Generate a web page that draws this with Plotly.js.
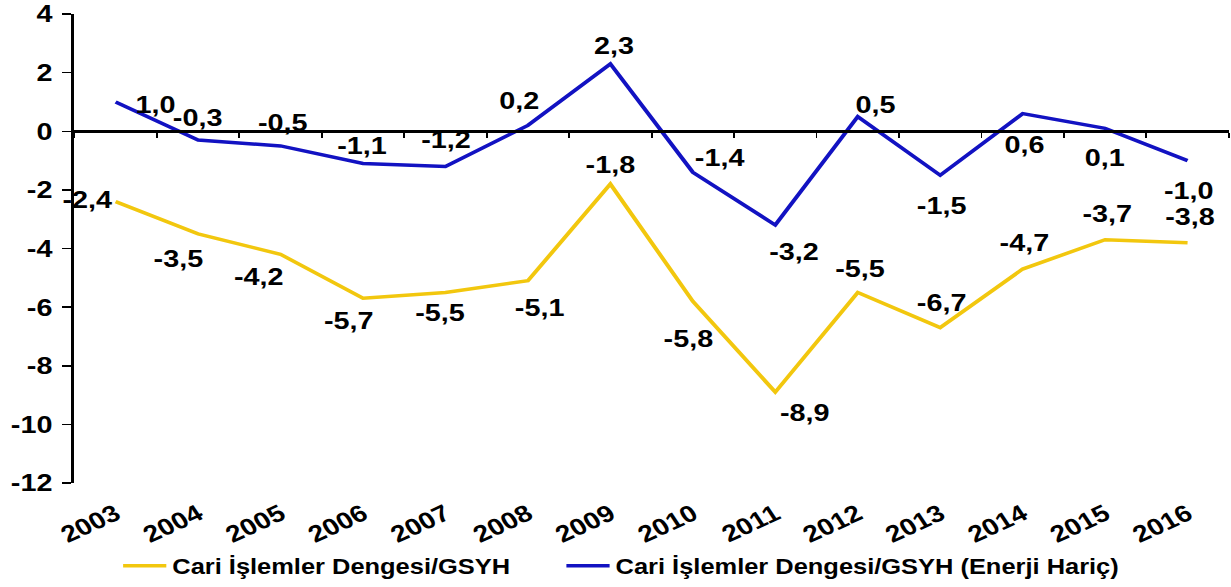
<!DOCTYPE html>
<html>
<head>
<meta charset="utf-8">
<script src="https://cdn.plot.ly/plotly-3.0.1.min.js"></script>
<style>
  html, body { margin: 0; padding: 0; overflow: hidden; background: #fff; }
  #chart { width: 1025px; height: 587px; transform: scaleX(1.2); transform-origin: 0 0; }
</style>
</head>
<body>
<div id="chart"></div>
<script>
// ---- data ----
const years = ['2003','2004','2005','2006','2007','2008','2009','2010','2011','2012','2013','2014','2015','2016'];
const cariGSYH = [-2.4, -3.5, -4.2, -5.7, -5.5, -5.1, -1.8, -5.8, -8.9, -5.5, -6.7, -4.7, -3.7, -3.8];
const cariEnerjiHaric = [1.0, -0.3, -0.5, -1.1, -1.2, 0.2, 2.3, -1.4, -3.2, 0.5, -1.5, 0.6, 0.1, -1.0];
const seriesNames = ['Cari İşlemler Dengesi/GSYH', 'Cari İşlemler Dengesi/GSYH (Enerji Hariç)'];
const yTicks = [-12, -10, -8, -6, -4, -2, 0, 2, 4];

// ---- label offsets from their points, in screen px (style, not data) ----
const cariDx = [-28, -20, -22, -14, -6, 11, 0, -5, 29, 2, 1, 2, 2, 2];
const cariDy = [-2, 25, 22, 22, 20, 27, -20, 37, 20, -24, -25, -27, -26, -26];
const enerjiDx = [40, -1, 2, -1, 0, -9, 3, 27, 19, 18, 1, 1, 0, 1];
const enerjiDy = [3, -23, -23, -18, -27, -25, -18, -15, 26, -12, 30, 31, 29, 30];

const SX = 1.2; // horizontal stretch of the whole figure
const fmt = v => v.toFixed(1).replace('.', ',');

const FONT = 'Arial, "Liberation Sans", Helvetica, sans-serif';
const YELLOW = '#F2C70E';
const BLUE = '#1212C2';

const traces = [
  {
    x: years, y: cariGSYH, name: seriesNames[0], type: 'scatter',
    mode: 'lines', xaxis: 'x', yaxis: 'y', legend: 'legend',
    line: {color: YELLOW, width: 3.5}, hoverinfo: 'skip'
  },
  {
    x: years, y: cariEnerjiHaric, name: seriesNames[1], type: 'scatter',
    mode: 'lines', xaxis: 'x2', yaxis: 'y', legend: 'legend2',
    line: {color: BLUE, width: 3.5}, hoverinfo: 'skip'
  }
];

function labels(vals, dx, dy) {
  return vals.map((v, i) => ({
    x: years.indexOf(years[i]), y: v, xref: 'x', yref: 'y', text: fmt(v), showarrow: false,
    xanchor: 'center', yanchor: 'middle',
    xshift: dx[i] / SX, yshift: -dy[i],
    font: {family: FONT, size: 24, color: '#000', weight: 'bold'}
  }));
}

const legendFont = {family: FONT, size: 21.2, color: '#000', weight: 'bold'};

const layout = {
  width: 1025, height: 587,
  margin: {l: 62, r: 1, t: 14, b: 104},
  paper_bgcolor: '#fff', plot_bgcolor: '#fff',
  font: {family: FONT, color: '#000'},
  showlegend: true,
  legend: {
    orientation: 'h', x: 0.037, xanchor: 'left', y: -0.177, yanchor: 'middle',
    font: legendFont, itemwidth: 36, bgcolor: 'rgba(0,0,0,0)'
  },
  legend2: {
    orientation: 'h', x: 0.421, xanchor: 'left', y: -0.177, yanchor: 'middle',
    font: legendFont, itemwidth: 36, bgcolor: 'rgba(0,0,0,0)'
  },
  annotations: labels(cariGSYH, cariDx, cariDy).concat(labels(cariEnerjiHaric, enerjiDx, enerjiDy)),
  xaxis: {
    type: 'category', categoryorder: 'array', categoryarray: years,
    range: [-0.5, 13.5], showline: false, ticks: '', showgrid: false, zeroline: false,
    tickangle: -29, tickfont: {family: FONT, size: 23.5, color: '#000', weight: 'bold'},
    ticklabelstandoff: 12, fixedrange: true
  },
  xaxis2: {
    type: 'category', categoryorder: 'array', categoryarray: years,
    overlaying: 'x', anchor: 'free', position: 0.75,
    range: [-0.5, 13.5], showline: true, linecolor: '#000', linewidth: 2.5,
    ticks: 'outside', tickson: 'boundaries', ticklen: 5, tickwidth: 1.5, tickcolor: '#000',
    showticklabels: false, showgrid: false, zeroline: false, fixedrange: true
  },
  yaxis: {
    range: [-12, 4], tickmode: 'array', tickvals: yTicks, ticktext: yTicks.map(String),
    showline: true, linecolor: '#000', linewidth: 2.5,
    ticks: 'outside', ticklen: 8, tickwidth: 1.5, tickcolor: '#000',
    showgrid: false, zeroline: false,
    tickfont: {family: FONT, size: 24, color: '#000', weight: 'bold'},
    ticklabelstandoff: 3, fixedrange: true
  }
};

Plotly.newPlot('chart', traces, layout, {displayModeBar: false, staticPlot: true});
</script>
</body>
</html>
